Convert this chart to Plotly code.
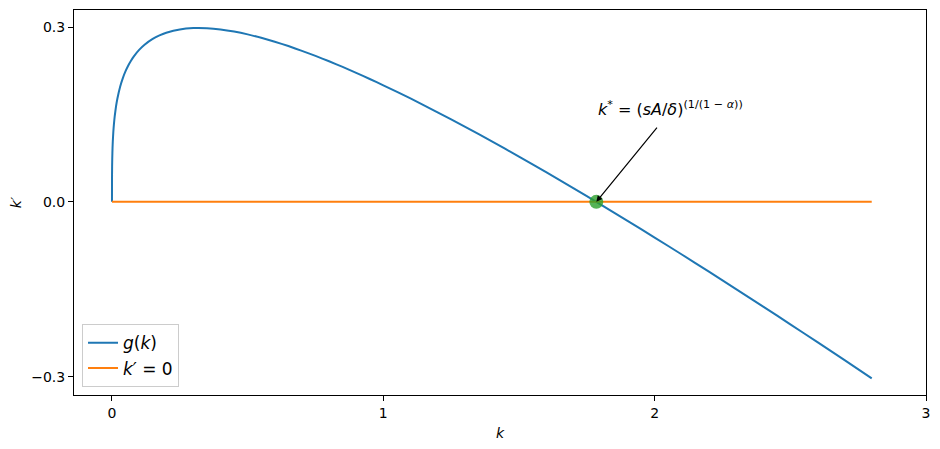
# Solow model phase line g(k) with steady state marker
import plotly.graph_objects as go

k_vals = [0.0, 0.0001, 0.0002, 0.0005, 0.001, 0.002, 0.003, 0.005, 0.007, 0.01,
          0.015, 0.02, 0.03, 0.04, 0.05, 0.06, 0.07, 0.08, 0.1, 0.12, 0.15, 0.175,
          0.2, 0.25, 0.3, 0.35, 0.4, 0.45, 0.5, 0.55, 0.6, 0.65, 0.7, 0.75, 0.8,
          0.85, 0.9, 0.95, 1.0, 1.1, 1.2, 1.3, 1.4, 1.5, 1.6, 1.7, 1.8, 1.9, 2.0,
          2.1, 2.2, 2.3, 2.4, 2.5, 2.6, 2.7, 2.8]
g_vals = [0.0, 0.0378, 0.0466, 0.0611, 0.0751, 0.0922, 0.1038, 0.1205, 0.1326,
          0.1467, 0.1642, 0.1774, 0.1975, 0.2124, 0.2242, 0.2340, 0.2422, 0.2493,
          0.2607, 0.2696, 0.2796, 0.2857, 0.2902, 0.2959, 0.2981, 0.2979, 0.2958,
          0.2922, 0.2874, 0.2815, 0.2747, 0.2673, 0.2591, 0.2504, 0.2412, 0.2315,
          0.2213, 0.2108, 0.2000, 0.1774, 0.1537, 0.1291, 0.1037, 0.0776, 0.0508,
          0.0235, -0.0043, -0.0326, -0.0613, -0.0904, -0.1199, -0.1497, -0.1798,
          -0.2102, -0.2408, -0.2717, -0.3029]
zero_k = [0.0, 2.8]
zero_g = [0.0, 0.0]
k_star = 1.785
x_ticks = [0, 1, 2, 3]
y_ticks = [-0.3, 0.0, 0.3]

fig = go.Figure()
fig.add_trace(go.Scatter(x=k_vals, y=g_vals, mode="lines", name="<i>g</i>(<i>k</i>)",
                         line=dict(color="#1f77b4", width=2, shape="spline", smoothing=0.5)))
fig.add_trace(go.Scatter(x=zero_k, y=zero_g, mode="lines", name="<i>k′</i> = 0",
                         line=dict(color="#ff7f0e", width=2)))
fig.add_trace(go.Scatter(x=[k_star], y=[0.0], mode="markers", showlegend=False,
                         marker=dict(color="rgba(44,160,44,0.8)", size=14)))

fig.add_annotation(x=k_star, y=0.0, ax=2.013, ay=0.13, xref="x", yref="y",
                   axref="x", ayref="y", text="", showarrow=True,
                   arrowhead=2, arrowsize=1, arrowwidth=1.2, arrowcolor="black")
fig.add_annotation(x=k_star, y=0.138, xref="x", yref="y", xanchor="left",
                   yanchor="bottom", showarrow=False,
                   text="<i>k</i><sup>*</sup> = (<i>sA</i>/<i>δ</i>)<sup>(1/(1 − <i>α</i>))</sup>",
                   font=dict(size=16, color="black"))

axis_style = dict(showline=True, linecolor="black", linewidth=1, mirror=True,
                  ticks="outside", ticklen=5, tickcolor="black", showgrid=False,
                  zeroline=False, automargin=False, tickfont=dict(size=14, color="black"))

fig.update_xaxes(range=[-0.14, 3.0], tickvals=x_ticks,
                 title=dict(text="<i>k</i>", font=dict(size=14, color="black"), standoff=8),
                 **axis_style)
fig.update_yaxes(range=[-0.3315, 0.3292], tickvals=y_ticks, tickformat=".1f",
                 title=dict(text="<i>k′</i>", font=dict(size=14, color="black"), standoff=12),
                 **axis_style)

# the page adds an 8px body margin, so the figure is shrunk to fit the window
fig.update_layout(
    width=924, height=433,
    margin=dict(l=66, r=6, t=2, b=46),
    plot_bgcolor="white", paper_bgcolor="white",
    font=dict(family="DejaVu Sans", color="black"),
    legend=dict(x=0.0094, y=0.02, xanchor="left", yanchor="bottom",
                bgcolor="white", bordercolor="#cccccc", borderwidth=1,
                font=dict(size=17)),
)

fig.write_html("out.html")
